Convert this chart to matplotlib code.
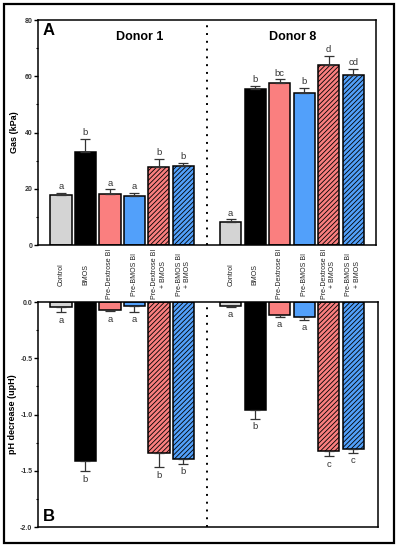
import numpy as np
import matplotlib
matplotlib.use('Agg')
from matplotlib import pyplot as plt
from matplotlib.patches import Rectangle
from matplotlib.ticker import MultipleLocator

plt.rcParams['font.family'] = ['Liberation Sans', 'DejaVu Sans']
plt.rcParams['hatch.linewidth'] = 0.6

treatments = ["Control", "BMOS", "Pre-Dextrose BI", "Pre-BMOS BI",
              "Pre-Dextrose BI\n+ BMOS", "Pre-BMOS BI\n+ BMOS"]

# Gas production (kPa)
gas_d1 = [17.8, 33.2, 18.1, 17.3, 27.9, 28.2]
gas_d1_err = [0.8, 4.5, 1.7, 1.3, 2.7, 1.1]
gas_d8 = [8.1, 55.3, 57.6, 54.0, 64.1, 60.5]
gas_d8_err = [1.0, 1.2, 1.3, 1.9, 3.2, 2.2]
gas_d1_letters = ["a", "b", "a", "a", "b", "b"]
gas_d8_letters = ["a", "b", "bc", "b", "d", "cd"]

# pH decrease (upH)
ph_d1 = [-0.045, -1.414, -0.068, -0.032, -1.34, -1.396]
ph_d1_err = [0.045, 0.09, 0.015, 0.055, 0.13, 0.045]
ph_d8 = [-0.035, -0.961, -0.115, -0.136, -1.322, -1.308]
ph_d8_err = [0.01, 0.077, 0.018, 0.02, 0.048, 0.03]
ph_d1_letters = ["a", "b", "a", "a", "b", "b"]
ph_d8_letters = ["a", "b", "a", "a", "c", "c"]

colors = ["#d4d4d4", "#000000", "#fa7f7f", "#52a0fa", "#fa7f7f", "#52a0fa"]
hatches = [None, None, None, None, "///////", "///////"]

x1 = np.arange(6)
x8 = np.arange(6) + 6.93
width = 0.86

fig = plt.figure(figsize=(3.99, 5.50), dpi=100)
ax_top = fig.add_axes([0.0952, 0.5545, 0.847, 0.4091])
ax_bot = fig.add_axes([0.0952, 0.0418, 0.852, 0.4091])

# outer frame
fig.patches.append(Rectangle((4 / 399, 7 / 550), 390 / 399, 539 / 550, transform=fig.transFigure,
                             fill=False, edgecolor='black', linewidth=1.6))


def draw_bars(ax, xs, vals, errs, up):
    for i in range(6):
        ax.bar(xs[i], vals[i], width=width, color=colors[i], edgecolor='black',
               linewidth=1.1, hatch=hatches[i], zorder=2)
        if up:
            yerr = [[0], [errs[i]]]
        else:
            yerr = [[errs[i]], [0]]
        ax.errorbar(xs[i], vals[i], yerr=yerr, fmt='none', ecolor='#333333',
                    elinewidth=0.9, capsize=3.6, capthick=0.9, zorder=3)


draw_bars(ax_top, x1, gas_d1, gas_d1_err, True)
draw_bars(ax_top, x8, gas_d8, gas_d8_err, True)
for xs, vals, errs, lets in [(x1, gas_d1, gas_d1_err, gas_d1_letters),
                             (x8, gas_d8, gas_d8_err, gas_d8_letters)]:
    for i in range(6):
        ax_top.text(xs[i], vals[i] + errs[i] + 0.6, lets[i], ha='center', va='bottom',
                    fontsize=6.8, color='#333333')

draw_bars(ax_bot, x1, ph_d1, ph_d1_err, False)
draw_bars(ax_bot, x8, ph_d8, ph_d8_err, False)
for xs, vals, errs, lets in [(x1, ph_d1, ph_d1_err, ph_d1_letters),
                             (x8, ph_d8, ph_d8_err, ph_d8_letters)]:
    for i in range(6):
        ax_bot.text(xs[i], vals[i] - errs[i] - 0.03, lets[i], ha='center', va='top',
                    fontsize=6.8, color='#333333')

# axes styling
ax_top.set_xlim(-0.94, 12.86)
ax_top.set_ylim(0, 80)
ax_top.yaxis.set_major_locator(MultipleLocator(20))
ax_top.yaxis.set_minor_locator(MultipleLocator(10))
ax_top.set_ylabel("Gas (kPa)", fontsize=6.5, fontweight='bold')
ax_top.yaxis.set_label_coords(-0.056, 0.5)

ax_bot.set_xlim(-0.94, 12.94)
ax_bot.set_ylim(-2.0, 0.0)
ax_bot.yaxis.set_major_locator(MultipleLocator(0.5))
ax_bot.yaxis.set_minor_locator(MultipleLocator(0.25))
ax_bot.set_ylabel("pH decrease (upH)", fontsize=6.5, fontweight='bold')
ax_bot.yaxis.set_label_coords(-0.062, 0.5)
ax_bot.set_yticks([0.0, -0.5, -1.0, -1.5, -2.0])
ax_bot.set_yticklabels(["0.0", "-0.5", "-1.0", "-1.5", "-2.0"])

for ax in (ax_top, ax_bot):
    ax.set_xticks([])
    for s in ax.spines.values():
        s.set_linewidth(1.1)
    ax.tick_params(axis='y', which='major', length=3, width=1, labelsize=5, pad=1,
                   labelcolor='#333333')
    ax.tick_params(axis='y', which='minor', length=1.8, width=0.8)
    for lab in ax.get_yticklabels():
        lab.set_fontweight('bold')
    ax.axvline(5.96, color='black', linestyle=(0, (1, 3)), linewidth=1.4, zorder=1)

# category labels between panels
for xs in (x1, x8):
    for i in range(6):
        ax_top.text(xs[i], -0.13, treatments[i], transform=ax_top.get_xaxis_transform(),
                    rotation=90, ha='center', va='center', fontsize=5, color='#222222',
                    linespacing=1.3, multialignment='center')

ax_top.text(0.3, 0.923, "Donor 1", transform=ax_top.transAxes, ha='center', va='center',
            fontsize=9, fontweight='bold')
ax_top.text(0.753, 0.923, "Donor 8", transform=ax_top.transAxes, ha='center', va='center',
            fontsize=9, fontweight='bold')
ax_top.text(0.015, 0.955, "A", transform=ax_top.transAxes, ha='left', va='center',
            fontsize=12, fontweight='bold')
ax_bot.text(0.015, 0.045, "B", transform=ax_bot.transAxes, ha='left', va='center',
            fontsize=12, fontweight='bold')

fig.savefig("out.png", dpi=100)
